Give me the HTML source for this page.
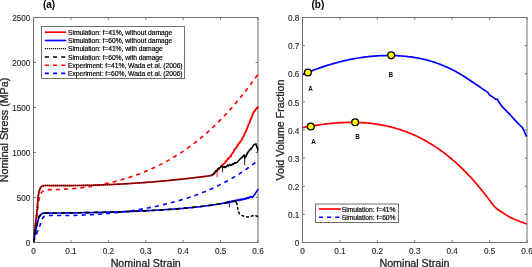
<!DOCTYPE html>
<html><head><meta charset="utf-8"><style>
html,body{margin:0;padding:0;background:#fff;width:532px;height:267px;overflow:hidden}
svg{display:block}
.wrap{will-change:transform;filter:blur(0.25px)}
text{font-family:"Liberation Sans", sans-serif}
</style></head><body><div class="wrap">
<svg width="532" height="267" viewBox="0 0 532 267" font-family='"Liberation Sans", sans-serif'>
<rect width="532" height="267" fill="#fff"/>
<defs>
<clipPath id="cl"><rect x="33.5" y="17.5" width="225.1" height="225.0"/></clipPath>
<clipPath id="cr"><rect x="302.5" y="17.5" width="225.1" height="225.0"/></clipPath>
</defs>
<g stroke="#707070" stroke-width="1" fill="none"><line x1="33.5" y1="242.5" x2="33.5" y2="240.2" /><line x1="33.5" y1="17.5" x2="33.5" y2="19.8" /><line x1="70.92" y1="242.5" x2="70.92" y2="240.2" /><line x1="70.92" y1="17.5" x2="70.92" y2="19.8" /><line x1="108.33" y1="242.5" x2="108.33" y2="240.2" /><line x1="108.33" y1="17.5" x2="108.33" y2="19.8" /><line x1="145.75" y1="242.5" x2="145.75" y2="240.2" /><line x1="145.75" y1="17.5" x2="145.75" y2="19.8" /><line x1="183.17" y1="242.5" x2="183.17" y2="240.2" /><line x1="183.17" y1="17.5" x2="183.17" y2="19.8" /><line x1="220.58" y1="242.5" x2="220.58" y2="240.2" /><line x1="220.58" y1="17.5" x2="220.58" y2="19.8" /><line x1="258.0" y1="242.5" x2="258.0" y2="240.2" /><line x1="258.0" y1="17.5" x2="258.0" y2="19.8" /><line x1="33.5" y1="242.5" x2="35.8" y2="242.5" /><line x1="258.0" y1="242.5" x2="255.7" y2="242.5" /><line x1="33.5" y1="197.5" x2="35.8" y2="197.5" /><line x1="258.0" y1="197.5" x2="255.7" y2="197.5" /><line x1="33.5" y1="152.5" x2="35.8" y2="152.5" /><line x1="258.0" y1="152.5" x2="255.7" y2="152.5" /><line x1="33.5" y1="107.5" x2="35.8" y2="107.5" /><line x1="258.0" y1="107.5" x2="255.7" y2="107.5" /><line x1="33.5" y1="62.5" x2="35.8" y2="62.5" /><line x1="258.0" y1="62.5" x2="255.7" y2="62.5" /><line x1="33.5" y1="17.5" x2="35.8" y2="17.5" /><line x1="258.0" y1="17.5" x2="255.7" y2="17.5" /><rect x="33.5" y="17.5" width="224.5" height="225.0" fill="none"/></g><g font-size="8.2" fill="#262626" stroke="#262626" stroke-width="0.12"><text x="33.5" y="254" text-anchor="middle">0</text><text x="70.92" y="254" text-anchor="middle">0.1</text><text x="108.33" y="254" text-anchor="middle">0.2</text><text x="145.75" y="254" text-anchor="middle">0.3</text><text x="183.17" y="254" text-anchor="middle">0.4</text><text x="220.58" y="254" text-anchor="middle">0.5</text><text x="258.0" y="254" text-anchor="middle">0.6</text><text x="30.4" y="245.80" text-anchor="end">0</text><text x="30.4" y="200.80" text-anchor="end">500</text><text x="30.4" y="155.80" text-anchor="end">1000</text><text x="30.4" y="110.80" text-anchor="end">1500</text><text x="30.4" y="65.80" text-anchor="end">2000</text><text x="30.4" y="20.80" text-anchor="end">2500</text></g>
<g clip-path="url(#cl)">
<path d="M33.50,242.20 C33.83,239.83 34.88,232.70 35.50,228.00 C36.12,223.30 36.75,217.97 37.20,214.00 C37.65,210.03 37.85,206.78 38.20,204.20 C38.55,201.62 38.93,200.00 39.30,198.50 C39.67,197.00 40.02,196.22 40.40,195.20 C40.78,194.18 41.13,193.10 41.60,192.40 C42.07,191.70 42.18,191.46 43.20,191.00 C44.22,190.54 46.62,189.89 47.70,189.67 C48.78,189.44 49.04,189.67 49.70,189.66 C50.37,189.66 51.04,189.66 51.71,189.65 C52.37,189.64 53.04,189.63 53.71,189.62 C54.38,189.61 55.04,189.59 55.71,189.58 C56.38,189.56 57.05,189.54 57.71,189.52 C58.38,189.50 59.05,189.47 59.72,189.45 C60.38,189.42 61.05,189.39 61.72,189.36 C62.39,189.33 63.06,189.30 63.72,189.26 C64.39,189.23 65.06,189.19 65.73,189.15 C66.39,189.11 67.06,189.06 67.73,189.02 C68.40,188.97 69.06,188.92 69.73,188.87 C70.40,188.82 71.07,188.77 71.73,188.71 C72.40,188.66 73.07,188.60 73.74,188.54 C74.40,188.48 75.07,188.42 75.74,188.35 C76.41,188.29 77.08,188.22 77.74,188.15 C78.41,188.08 79.08,188.00 79.75,187.93 C80.41,187.85 81.08,187.77 81.75,187.69 C82.42,187.61 83.08,187.53 83.75,187.44 C84.42,187.36 85.09,187.27 85.75,187.18 C86.42,187.09 87.09,186.99 87.76,186.90 C88.42,186.80 89.09,186.70 89.76,186.60 C90.43,186.50 91.10,186.40 91.76,186.29 C92.43,186.18 93.10,186.07 93.77,185.96 C94.43,185.85 95.10,185.73 95.77,185.62 C96.44,185.50 97.10,185.38 97.77,185.26 C98.44,185.13 99.11,185.01 99.77,184.88 C100.44,184.75 101.11,184.62 101.78,184.49 C102.44,184.35 103.11,184.22 103.78,184.08 C104.45,183.94 105.12,183.80 105.78,183.65 C106.45,183.51 107.12,183.36 107.79,183.21 C108.45,183.06 109.12,182.91 109.79,182.75 C110.46,182.59 111.12,182.44 111.79,182.27 C112.46,182.11 113.13,181.95 113.79,181.78 C114.46,181.61 115.13,181.45 115.80,181.27 C116.46,181.10 117.13,180.92 117.80,180.75 C118.47,180.57 119.14,180.38 119.80,180.20 C120.47,180.02 121.14,179.83 121.81,179.64 C122.47,179.45 123.14,179.25 123.81,179.06 C124.48,178.86 125.14,178.66 125.81,178.45 C126.48,178.25 127.15,178.04 127.81,177.83 C128.48,177.62 129.15,177.41 129.82,177.19 C130.48,176.98 131.15,176.76 131.82,176.53 C132.49,176.31 133.16,176.08 133.82,175.85 C134.49,175.62 135.16,175.38 135.83,175.15 C136.49,174.91 137.16,174.67 137.83,174.42 C138.50,174.18 139.16,173.93 139.83,173.67 C140.50,173.42 141.17,173.16 141.83,172.90 C142.50,172.64 143.17,172.38 143.84,172.11 C144.50,171.84 145.17,171.57 145.84,171.29 C146.51,171.02 147.18,170.74 147.84,170.45 C148.51,170.17 149.18,169.88 149.85,169.59 C150.51,169.29 151.18,169.00 151.85,168.70 C152.52,168.39 153.18,168.09 153.85,167.78 C154.52,167.47 155.19,167.16 155.85,166.84 C156.52,166.52 157.19,166.20 157.86,165.87 C158.52,165.54 159.19,165.21 159.86,164.87 C160.53,164.54 161.20,164.20 161.86,163.85 C162.53,163.51 163.20,163.16 163.87,162.80 C164.53,162.45 165.20,162.09 165.87,161.73 C166.54,161.36 167.20,160.99 167.87,160.62 C168.54,160.25 169.21,159.87 169.87,159.49 C170.54,159.10 171.21,158.71 171.88,158.32 C172.54,157.93 173.21,157.53 173.88,157.13 C174.55,156.72 175.22,156.32 175.88,155.90 C176.55,155.49 177.22,155.07 177.89,154.65 C178.55,154.23 179.22,153.80 179.89,153.36 C180.56,152.93 181.22,152.49 181.89,152.04 C182.56,151.60 183.23,151.15 183.89,150.70 C184.56,150.24 185.23,149.78 185.90,149.31 C186.56,148.85 187.23,148.38 187.90,147.90 C188.57,147.42 189.24,146.94 189.90,146.45 C190.57,145.96 191.24,145.47 191.91,144.97 C192.57,144.47 193.24,143.96 193.91,143.45 C194.58,142.94 195.24,142.42 195.91,141.90 C196.58,141.38 197.25,140.85 197.91,140.31 C198.58,139.78 199.25,139.24 199.92,138.69 C200.58,138.14 201.25,137.59 201.92,137.03 C202.59,136.47 203.26,135.91 203.92,135.34 C204.59,134.77 205.26,134.19 205.93,133.60 C206.59,133.02 207.26,132.43 207.93,131.84 C208.60,131.24 209.26,130.64 209.93,130.03 C210.60,129.42 211.27,128.80 211.93,128.18 C212.60,127.56 213.27,126.93 213.94,126.30 C214.60,125.66 215.27,125.02 215.94,124.38 C216.61,123.73 217.28,123.07 217.94,122.41 C218.61,121.75 219.28,121.08 219.95,120.41 C220.61,119.73 221.28,119.05 221.95,118.37 C222.62,117.68 223.28,116.98 223.95,116.28 C224.62,115.58 225.29,114.87 225.95,114.15 C226.62,113.44 227.29,112.72 227.96,111.99 C228.62,111.26 229.29,110.52 229.96,109.78 C230.63,109.03 231.30,108.28 231.96,107.52 C232.63,106.76 233.30,106.00 233.97,105.23 C234.63,104.45 235.30,103.67 235.97,102.89 C236.64,102.10 237.30,101.30 237.97,100.50 C238.64,99.70 239.31,98.89 239.97,98.07 C240.64,97.25 241.31,96.43 241.98,95.60 C242.64,94.77 243.31,93.93 243.98,93.08 C244.65,92.23 245.32,91.38 245.98,90.51 C246.65,89.65 247.32,88.78 247.99,87.90 C248.65,87.02 249.32,86.14 249.99,85.24 C250.66,84.35 251.32,83.45 251.99,82.54 C252.66,81.63 253.33,80.71 253.99,79.78 C254.66,78.86 255.33,77.92 256.00,76.98 C256.66,76.04 257.67,74.61 258.00,74.13" fill="none" stroke="#ff0000" stroke-width="1.6" stroke-dasharray="4.1 4.1"/>
<path d="M33.50,242.20 C34.00,240.83 35.55,236.45 36.50,234.00 C37.45,231.55 38.53,229.18 39.20,227.50 C39.87,225.82 40.05,225.25 40.50,223.90 C40.95,222.55 41.37,220.57 41.90,219.40 C42.43,218.23 43.02,217.48 43.70,216.90 C44.38,216.32 45.10,216.14 46.00,215.90 C46.90,215.66 48.25,215.52 49.10,215.45 C49.95,215.38 50.44,215.47 51.11,215.47 C51.78,215.48 52.45,215.49 53.12,215.49 C53.79,215.50 54.46,215.50 55.13,215.51 C55.80,215.51 56.47,215.52 57.13,215.52 C57.80,215.52 58.47,215.52 59.14,215.52 C59.81,215.52 60.48,215.52 61.15,215.52 C61.82,215.52 62.49,215.52 63.16,215.51 C63.83,215.51 64.50,215.50 65.17,215.50 C65.84,215.49 66.51,215.48 67.18,215.48 C67.85,215.47 68.52,215.46 69.19,215.45 C69.86,215.44 70.53,215.43 71.20,215.42 C71.86,215.40 72.53,215.39 73.20,215.37 C73.87,215.36 74.54,215.34 75.21,215.33 C75.88,215.31 76.55,215.29 77.22,215.27 C77.89,215.25 78.56,215.23 79.23,215.21 C79.90,215.19 80.57,215.17 81.24,215.14 C81.91,215.12 82.58,215.09 83.25,215.07 C83.92,215.04 84.59,215.01 85.26,214.98 C85.93,214.96 86.59,214.93 87.26,214.89 C87.93,214.86 88.60,214.83 89.27,214.80 C89.94,214.76 90.61,214.73 91.28,214.69 C91.95,214.65 92.62,214.61 93.29,214.57 C93.96,214.54 94.63,214.49 95.30,214.45 C95.97,214.41 96.64,214.37 97.31,214.32 C97.98,214.28 98.65,214.23 99.32,214.18 C99.99,214.14 100.66,214.09 101.33,214.04 C101.99,213.99 102.66,213.93 103.33,213.88 C104.00,213.83 104.67,213.77 105.34,213.72 C106.01,213.66 106.68,213.60 107.35,213.54 C108.02,213.48 108.69,213.42 109.36,213.36 C110.03,213.30 110.70,213.23 111.37,213.17 C112.04,213.10 112.71,213.04 113.38,212.97 C114.05,212.90 114.72,212.83 115.39,212.76 C116.06,212.69 116.72,212.61 117.39,212.54 C118.06,212.46 118.73,212.39 119.40,212.31 C120.07,212.23 120.74,212.15 121.41,212.07 C122.08,211.99 122.75,211.91 123.42,211.82 C124.09,211.74 124.76,211.65 125.43,211.56 C126.10,211.48 126.77,211.39 127.44,211.30 C128.11,211.21 128.78,211.11 129.45,211.02 C130.12,210.92 130.79,210.83 131.45,210.73 C132.12,210.63 132.79,210.53 133.46,210.43 C134.13,210.33 134.80,210.22 135.47,210.12 C136.14,210.01 136.81,209.91 137.48,209.80 C138.15,209.69 138.82,209.58 139.49,209.47 C140.16,209.36 140.83,209.24 141.50,209.12 C142.17,209.01 142.84,208.89 143.51,208.77 C144.18,208.65 144.85,208.53 145.52,208.41 C146.18,208.28 146.85,208.16 147.52,208.03 C148.19,207.90 148.86,207.77 149.53,207.64 C150.20,207.51 150.87,207.38 151.54,207.24 C152.21,207.11 152.88,206.97 153.55,206.83 C154.22,206.69 154.89,206.55 155.56,206.41 C156.23,206.27 156.90,206.12 157.57,205.98 C158.24,205.83 158.91,205.68 159.58,205.53 C160.25,205.38 160.92,205.23 161.58,205.07 C162.25,204.92 162.92,204.76 163.59,204.60 C164.26,204.44 164.93,204.28 165.60,204.12 C166.27,203.95 166.94,203.79 167.61,203.62 C168.28,203.45 168.95,203.28 169.62,203.11 C170.29,202.94 170.96,202.76 171.63,202.59 C172.30,202.41 172.97,202.23 173.64,202.05 C174.31,201.87 174.98,201.69 175.65,201.50 C176.31,201.32 176.98,201.13 177.65,200.94 C178.32,200.75 178.99,200.56 179.66,200.37 C180.33,200.17 181.00,199.97 181.67,199.77 C182.34,199.57 183.01,199.37 183.68,199.17 C184.35,198.96 185.02,198.75 185.69,198.54 C186.36,198.33 187.03,198.12 187.70,197.90 C188.37,197.68 189.04,197.46 189.71,197.24 C190.38,197.02 191.04,196.79 191.71,196.57 C192.38,196.34 193.05,196.11 193.72,195.87 C194.39,195.64 195.06,195.40 195.73,195.16 C196.40,194.91 197.07,194.67 197.74,194.42 C198.41,194.17 199.08,193.92 199.75,193.67 C200.42,193.41 201.09,193.15 201.76,192.89 C202.43,192.63 203.10,192.37 203.77,192.10 C204.44,191.83 205.11,191.55 205.78,191.28 C206.44,191.00 207.11,190.72 207.78,190.44 C208.45,190.15 209.12,189.86 209.79,189.57 C210.46,189.28 211.13,188.98 211.80,188.68 C212.47,188.38 213.14,188.08 213.81,187.77 C214.48,187.46 215.15,187.15 215.82,186.83 C216.49,186.52 217.16,186.20 217.83,185.87 C218.50,185.54 219.17,185.22 219.84,184.88 C220.51,184.55 221.17,184.21 221.84,183.87 C222.51,183.52 223.18,183.18 223.85,182.82 C224.52,182.47 225.19,182.11 225.86,181.75 C226.53,181.39 227.20,181.02 227.87,180.65 C228.54,180.28 229.21,179.91 229.88,179.53 C230.55,179.15 231.22,178.76 231.89,178.37 C232.56,177.98 233.23,177.58 233.90,177.18 C234.57,176.78 235.24,176.38 235.90,175.96 C236.57,175.55 237.24,175.14 237.91,174.71 C238.58,174.29 239.25,173.87 239.92,173.43 C240.59,173.00 241.26,172.56 241.93,172.12 C242.60,171.68 243.27,171.23 243.94,170.78 C244.61,170.32 245.28,169.86 245.95,169.40 C246.62,168.93 247.29,168.46 247.96,167.98 C248.63,167.51 249.30,167.02 249.97,166.53 C250.63,166.05 251.30,165.55 251.97,165.05 C252.64,164.55 253.31,164.04 253.98,163.53 C254.65,163.02 255.32,162.50 255.99,161.98 C256.66,161.45 257.67,160.65 258.00,160.38" fill="none" stroke="#0000ff" stroke-width="1.6" stroke-dasharray="4.1 4.1"/>
<path d="M33.50,242.20 C33.80,239.33 34.70,230.37 35.30,225.00 C35.90,219.63 36.72,213.75 37.10,210.00 C37.48,206.25 37.37,205.07 37.60,202.50 C37.83,199.93 38.22,196.57 38.50,194.60 C38.78,192.63 38.98,191.82 39.30,190.70 C39.62,189.58 39.93,188.63 40.40,187.90 C40.87,187.17 41.43,186.70 42.10,186.30 C42.77,185.90 43.68,185.62 44.40,185.50 C45.12,185.37 45.73,185.51 46.39,185.52 C47.06,185.53 47.72,185.54 48.38,185.55 C49.05,185.56 49.71,185.56 50.38,185.57 C51.04,185.58 51.70,185.58 52.37,185.59 C53.03,185.59 53.69,185.60 54.36,185.60 C55.02,185.61 55.69,185.61 56.35,185.61 C57.01,185.62 57.68,185.62 58.34,185.62 C59.01,185.62 59.67,185.62 60.33,185.62 C61.00,185.62 61.66,185.63 62.32,185.62 C62.99,185.62 63.65,185.62 64.32,185.62 C64.98,185.62 65.64,185.62 66.31,185.61 C66.97,185.61 67.64,185.61 68.30,185.60 C68.96,185.60 69.63,185.59 70.29,185.59 C70.96,185.58 71.62,185.58 72.28,185.57 C72.95,185.57 73.61,185.56 74.27,185.55 C74.94,185.54 75.60,185.53 76.27,185.53 C76.93,185.52 77.59,185.51 78.26,185.50 C78.92,185.49 79.59,185.48 80.25,185.47 C80.91,185.45 81.58,185.44 82.24,185.43 C82.91,185.42 83.57,185.40 84.23,185.39 C84.90,185.38 85.56,185.36 86.22,185.35 C86.89,185.33 87.55,185.32 88.22,185.30 C88.88,185.29 89.54,185.27 90.21,185.25 C90.87,185.24 91.54,185.22 92.20,185.20 C92.86,185.18 93.53,185.16 94.19,185.14 C94.86,185.12 95.52,185.10 96.18,185.08 C96.85,185.06 97.51,185.04 98.17,185.02 C98.84,185.00 99.50,184.97 100.17,184.95 C100.83,184.93 101.49,184.90 102.16,184.88 C102.82,184.86 103.49,184.83 104.15,184.80 C104.81,184.78 105.48,184.75 106.14,184.73 C106.81,184.70 107.47,184.67 108.13,184.65 C108.80,184.62 109.46,184.59 110.12,184.56 C110.79,184.53 111.45,184.50 112.12,184.47 C112.78,184.44 113.44,184.41 114.11,184.38 C114.77,184.35 115.44,184.32 116.10,184.28 C116.76,184.25 117.43,184.22 118.09,184.18 C118.76,184.15 119.42,184.12 120.08,184.08 C120.75,184.05 121.41,184.01 122.07,183.97 C122.74,183.94 123.40,183.90 124.07,183.86 C124.73,183.83 125.39,183.79 126.06,183.75 C126.72,183.71 127.39,183.67 128.05,183.63 C128.71,183.59 129.38,183.55 130.04,183.51 C130.71,183.47 131.37,183.43 132.03,183.39 C132.70,183.35 133.36,183.30 134.02,183.26 C134.69,183.22 135.35,183.17 136.02,183.13 C136.68,183.08 137.34,183.04 138.01,182.99 C138.67,182.95 139.34,182.90 140.00,182.86 C140.66,182.81 141.33,182.76 141.99,182.71 C142.66,182.67 143.32,182.62 143.98,182.57 C144.65,182.52 145.31,182.47 145.97,182.42 C146.64,182.37 147.30,182.32 147.97,182.27 C148.63,182.22 149.29,182.16 149.96,182.11 C150.62,182.06 151.29,182.00 151.95,181.95 C152.61,181.90 153.28,181.84 153.94,181.79 C154.61,181.73 155.27,181.68 155.93,181.62 C156.60,181.56 157.26,181.51 157.92,181.45 C158.59,181.39 159.25,181.34 159.92,181.28 C160.58,181.22 161.24,181.16 161.91,181.10 C162.57,181.04 163.24,180.98 163.90,180.92 C164.56,180.86 165.23,180.80 165.89,180.73 C166.56,180.67 167.22,180.61 167.88,180.55 C168.55,180.48 169.21,180.42 169.88,180.36 C170.54,180.29 171.20,180.23 171.87,180.16 C172.53,180.09 173.19,180.03 173.86,179.96 C174.52,179.89 175.19,179.83 175.85,179.76 C176.51,179.69 177.18,179.62 177.84,179.55 C178.51,179.48 179.17,179.41 179.83,179.34 C180.50,179.27 181.16,179.20 181.82,179.13 C182.49,179.06 183.15,178.99 183.82,178.92 C184.48,178.84 185.14,178.77 185.81,178.70 C186.47,178.62 187.14,178.55 187.80,178.47 C188.46,178.40 189.13,178.32 189.79,178.25 C190.46,178.17 191.12,178.09 191.78,178.02 C192.45,177.94 193.11,177.86 193.77,177.78 C194.44,177.70 195.10,177.62 195.77,177.54 C196.43,177.46 197.09,177.38 197.76,177.30 C198.42,177.22 199.09,177.14 199.75,177.06 C200.41,176.98 201.08,176.89 201.74,176.81 C202.41,176.73 203.07,176.64 203.73,176.56 C204.40,176.48 205.06,176.39 205.72,176.31 C206.39,176.22 207.05,176.13 207.72,176.05 C208.38,175.96 209.04,175.87 209.71,175.78 C210.37,175.70 211.37,175.56 211.70,175.52" fill="none" stroke="#ff0000" stroke-width="1.65"/>
<path d="M211.70,175.52 L212.40,174.55 L213.10,174.21 L213.80,173.34 L214.50,172.91 L215.20,172.30 L215.90,171.04 L216.60,170.34 L217.30,170.61 L218.00,169.34 L218.60,168.67 L219.20,168.87 L219.80,167.65 L220.40,167.41 L221.00,166.37 L221.60,165.97 L222.20,164.85 L222.80,164.80 L223.40,164.47 L224.00,163.51 L224.60,163.17 L225.17,162.44 L225.73,161.12 L226.30,161.23 L226.87,160.40 L227.43,159.43 L228.00,158.48 L228.52,158.75 L229.03,157.67 L229.55,157.29 L230.07,156.82 L230.58,155.99 L231.10,155.56 L231.59,154.26 L232.07,153.97 L232.56,152.85 L233.04,152.66 L233.53,151.87 L234.01,150.29 L234.50,149.60 L234.96,149.00 L235.41,149.14 L235.87,147.87 L236.33,147.40 L236.79,146.35 L237.24,145.89 L237.70,145.07 L238.35,144.09 L239.00,143.39 L239.52,142.65 L240.04,142.26 L240.56,141.28 L241.08,140.81 L241.60,139.99 L242.03,139.37 L242.45,138.24 L242.88,136.90 L243.30,136.90 L243.66,136.26 L244.03,135.45 L244.39,134.33 L244.75,133.74 L245.11,132.43 L245.47,132.36 L245.84,131.33 L246.20,130.26 L246.53,129.22 L246.86,129.29 L247.19,128.64 L247.52,126.85 L247.85,126.83 L248.18,125.60 L248.51,124.52 L248.84,123.87 L249.17,123.60 L249.50,122.91 L249.80,121.23 L250.10,121.09 L250.40,119.69 L250.70,119.66 L251.00,118.46 L251.30,118.30 L251.60,117.64 L251.90,116.35 L252.20,116.12 L252.50,114.59 L252.92,113.62 L253.33,113.48 L253.75,112.13 L254.17,111.60 L254.58,111.12 L255.00,110.62 L255.58,109.46 L256.17,108.66 L256.75,108.90 L257.33,107.63 L257.92,107.67 L258.50,106.50" fill="none" stroke="#ff0000" stroke-width="1.8" stroke-linejoin="round"/>
<line x1="217.1" y1="170.3" x2="217.1" y2="177.0" stroke="#ff0000" stroke-width="0.9"/>
<line x1="231.6" y1="154.6" x2="231.0" y2="157.5" stroke="#ff0000" stroke-width="0.9"/>
<line x1="238.6" y1="143.8" x2="238.0" y2="146.5" stroke="#ff0000" stroke-width="0.9"/>
<path d="M33.50,242.20 C33.92,240.00 35.43,231.75 36.00,229.00 C36.57,226.25 36.60,227.00 36.90,225.70 C37.20,224.40 37.42,222.70 37.80,221.20 C38.18,219.70 38.67,217.85 39.20,216.70 C39.73,215.55 40.28,214.89 41.00,214.30 C41.72,213.71 42.75,213.36 43.50,213.17 C44.25,212.98 44.83,213.16 45.50,213.16 C46.16,213.15 46.83,213.14 47.49,213.14 C48.16,213.13 48.82,213.12 49.49,213.12 C50.15,213.11 50.82,213.11 51.48,213.10 C52.15,213.09 52.81,213.09 53.48,213.08 C54.14,213.07 54.81,213.07 55.47,213.06 C56.14,213.05 56.80,213.05 57.47,213.04 C58.13,213.03 58.80,213.02 59.46,213.02 C60.13,213.01 60.79,213.00 61.46,212.99 C62.12,212.99 62.79,212.98 63.45,212.97 C64.12,212.96 64.78,212.96 65.45,212.95 C66.11,212.94 66.78,212.93 67.44,212.92 C68.11,212.91 68.77,212.91 69.44,212.90 C70.10,212.89 70.77,212.88 71.43,212.87 C72.10,212.86 72.76,212.85 73.43,212.84 C74.09,212.83 74.76,212.82 75.42,212.81 C76.09,212.80 76.75,212.79 77.42,212.78 C78.08,212.77 78.75,212.76 79.41,212.75 C80.08,212.74 80.74,212.73 81.41,212.72 C82.07,212.71 82.74,212.70 83.40,212.69 C84.07,212.68 84.73,212.67 85.40,212.65 C86.06,212.64 86.73,212.63 87.39,212.62 C88.06,212.61 88.72,212.59 89.39,212.58 C90.05,212.57 90.72,212.56 91.38,212.54 C92.05,212.53 92.71,212.52 93.38,212.50 C94.04,212.49 94.71,212.47 95.38,212.46 C96.04,212.45 96.71,212.43 97.37,212.42 C98.04,212.40 98.70,212.39 99.37,212.37 C100.03,212.36 100.70,212.34 101.36,212.33 C102.03,212.31 102.69,212.29 103.36,212.28 C104.02,212.26 104.69,212.24 105.35,212.23 C106.02,212.21 106.68,212.19 107.35,212.18 C108.01,212.16 108.68,212.14 109.34,212.12 C110.01,212.10 110.67,212.09 111.34,212.07 C112.00,212.05 112.67,212.03 113.33,212.01 C114.00,211.99 114.66,211.97 115.33,211.95 C115.99,211.93 116.66,211.91 117.32,211.89 C117.99,211.87 118.65,211.85 119.32,211.82 C119.98,211.80 120.65,211.78 121.31,211.76 C121.98,211.74 122.64,211.71 123.31,211.69 C123.97,211.67 124.64,211.64 125.30,211.62 C125.97,211.60 126.63,211.57 127.30,211.55 C127.96,211.52 128.63,211.50 129.29,211.47 C129.96,211.45 130.62,211.42 131.29,211.40 C131.95,211.37 132.62,211.34 133.28,211.32 C133.95,211.29 134.61,211.26 135.28,211.23 C135.94,211.21 136.61,211.18 137.27,211.15 C137.94,211.12 138.60,211.09 139.27,211.06 C139.93,211.03 140.60,211.00 141.26,210.97 C141.93,210.94 142.59,210.91 143.26,210.88 C143.92,210.85 144.59,210.82 145.25,210.79 C145.92,210.75 146.58,210.72 147.25,210.69 C147.92,210.65 148.58,210.62 149.25,210.59 C149.91,210.55 150.58,210.52 151.24,210.48 C151.91,210.45 152.57,210.41 153.24,210.38 C153.90,210.34 154.57,210.30 155.23,210.27 C155.90,210.23 156.56,210.19 157.23,210.15 C157.89,210.12 158.56,210.08 159.22,210.04 C159.89,210.00 160.55,209.96 161.22,209.92 C161.88,209.88 162.55,209.84 163.21,209.80 C163.88,209.76 164.54,209.71 165.21,209.67 C165.87,209.63 166.54,209.59 167.20,209.54 C167.87,209.50 168.53,209.45 169.20,209.41 C169.86,209.36 170.53,209.32 171.19,209.27 C171.86,209.22 172.52,209.18 173.19,209.13 C173.85,209.08 174.52,209.03 175.18,208.98 C175.85,208.93 176.51,208.88 177.18,208.83 C177.84,208.78 178.51,208.72 179.17,208.67 C179.84,208.62 180.50,208.56 181.17,208.51 C181.83,208.45 182.50,208.39 183.16,208.34 C183.83,208.28 184.49,208.22 185.16,208.16 C185.82,208.10 186.49,208.04 187.15,207.98 C187.82,207.92 188.48,207.85 189.15,207.79 C189.81,207.73 190.48,207.66 191.14,207.59 C191.81,207.53 192.47,207.46 193.14,207.39 C193.80,207.32 194.47,207.25 195.13,207.18 C195.80,207.11 196.46,207.03 197.13,206.96 C197.79,206.89 198.46,206.81 199.12,206.73 C199.79,206.66 200.46,206.58 201.12,206.50 C201.79,206.42 202.45,206.34 203.12,206.25 C203.78,206.17 204.45,206.09 205.11,206.00 C205.78,205.92 206.44,205.83 207.11,205.74 C207.77,205.65 208.44,205.56 209.10,205.47 C209.77,205.38 210.43,205.28 211.10,205.19 C211.76,205.09 212.43,205.00 213.09,204.90 C213.76,204.80 214.42,204.70 215.09,204.60 C215.75,204.49 216.42,204.39 217.08,204.28 C217.75,204.18 218.41,204.07 219.08,203.96 C219.74,203.85 220.41,203.74 221.07,203.63 C221.74,203.52 222.40,203.40 223.07,203.28 C223.73,203.17 224.40,203.05 225.06,202.93 C225.73,202.81 226.39,202.69 227.06,202.56 C227.72,202.44 228.39,202.31 229.05,202.18 C229.72,202.05 230.38,201.92 231.05,201.79 C231.71,201.66 232.38,201.52 233.04,201.38 C233.71,201.25 234.37,201.11 235.04,200.97 C235.70,200.82 236.37,200.68 237.03,200.54 C237.70,200.39 238.36,200.24 239.03,200.09 C239.69,199.94 240.36,199.79 241.02,199.63 C241.69,199.48 242.35,199.32 243.02,199.16 C243.68,199.00 244.35,198.84 245.01,198.68 C245.68,198.51 246.34,198.34 247.01,198.17 C247.67,198.01 248.34,197.83 249.00,197.66 C249.67,197.49 250.42,197.19 251.00,197.13 C251.58,197.07 251.83,197.84 252.50,197.30 C253.17,196.76 254.00,195.32 255.00,193.90 C256.00,192.48 257.92,189.65 258.50,188.80" fill="none" stroke="#0000ff" stroke-width="1.65"/>
<path d="M225.06,202.93 L226.06,202.57 L227.06,202.21 L228.06,202.52 L229.05,201.75 L230.05,202.02 L231.05,201.65 L232.05,201.14 L233.04,201.39 L234.04,200.71 L235.04,200.90 L236.04,200.32 L237.03,200.13 L238.03,200.24 L239.03,200.42 L240.03,199.49 L241.02,199.36 L242.02,199.52 L243.02,199.61 L244.02,199.00 L245.01,198.57 L246.01,198.90 L247.01,197.72 L248.01,198.28 L249.00,197.45 L250.00,197.04 L251.00,196.75 L252.50,197.30" fill="none" stroke="#0000ff" stroke-width="1.75" stroke-linejoin="round"/>
<line x1="229.4" y1="200.5" x2="229.4" y2="207.4" stroke="#0000ff" stroke-width="0.9"/>
<path d="M33.50,242.20 C33.80,239.33 34.70,230.37 35.30,225.00 C35.90,219.63 36.72,213.75 37.10,210.00 C37.48,206.25 37.37,205.07 37.60,202.50 C37.83,199.93 38.22,196.57 38.50,194.60 C38.78,192.63 38.98,191.82 39.30,190.70 C39.62,189.58 39.93,188.63 40.40,187.90 C40.87,187.17 41.43,186.70 42.10,186.30 C42.77,185.90 43.68,185.62 44.40,185.50 C45.12,185.37 45.73,185.51 46.39,185.52 C47.06,185.53 47.72,185.54 48.38,185.55 C49.05,185.56 49.71,185.56 50.38,185.57 C51.04,185.58 51.70,185.58 52.37,185.59 C53.03,185.59 53.69,185.60 54.36,185.60 C55.02,185.61 55.69,185.61 56.35,185.61 C57.01,185.62 57.68,185.62 58.34,185.62 C59.01,185.62 59.67,185.62 60.33,185.62 C61.00,185.62 61.66,185.63 62.32,185.62 C62.99,185.62 63.65,185.62 64.32,185.62 C64.98,185.62 65.64,185.62 66.31,185.61 C66.97,185.61 67.64,185.61 68.30,185.60 C68.96,185.60 69.63,185.59 70.29,185.59 C70.96,185.58 71.62,185.58 72.28,185.57 C72.95,185.57 73.61,185.56 74.27,185.55 C74.94,185.54 75.60,185.53 76.27,185.53 C76.93,185.52 77.59,185.51 78.26,185.50 C78.92,185.49 79.59,185.48 80.25,185.47 C80.91,185.45 81.58,185.44 82.24,185.43 C82.91,185.42 83.57,185.40 84.23,185.39 C84.90,185.38 85.56,185.36 86.22,185.35 C86.89,185.33 87.55,185.32 88.22,185.30 C88.88,185.29 89.54,185.27 90.21,185.25 C90.87,185.24 91.54,185.22 92.20,185.20 C92.86,185.18 93.53,185.16 94.19,185.14 C94.86,185.12 95.52,185.10 96.18,185.08 C96.85,185.06 97.51,185.04 98.17,185.02 C98.84,185.00 99.50,184.97 100.17,184.95 C100.83,184.93 101.49,184.90 102.16,184.88 C102.82,184.86 103.49,184.83 104.15,184.80 C104.81,184.78 105.48,184.75 106.14,184.73 C106.81,184.70 107.47,184.67 108.13,184.65 C108.80,184.62 109.46,184.59 110.12,184.56 C110.79,184.53 111.45,184.50 112.12,184.47 C112.78,184.44 113.44,184.41 114.11,184.38 C114.77,184.35 115.44,184.32 116.10,184.28 C116.76,184.25 117.43,184.22 118.09,184.18 C118.76,184.15 119.42,184.12 120.08,184.08 C120.75,184.05 121.41,184.01 122.07,183.97 C122.74,183.94 123.40,183.90 124.07,183.86 C124.73,183.83 125.39,183.79 126.06,183.75 C126.72,183.71 127.39,183.67 128.05,183.63 C128.71,183.59 129.38,183.55 130.04,183.51 C130.71,183.47 131.37,183.43 132.03,183.39 C132.70,183.35 133.36,183.30 134.02,183.26 C134.69,183.22 135.35,183.17 136.02,183.13 C136.68,183.08 137.34,183.04 138.01,182.99 C138.67,182.95 139.34,182.90 140.00,182.86 C140.66,182.81 141.33,182.76 141.99,182.71 C142.66,182.67 143.32,182.62 143.98,182.57 C144.65,182.52 145.31,182.47 145.97,182.42 C146.64,182.37 147.30,182.32 147.97,182.27 C148.63,182.22 149.29,182.16 149.96,182.11 C150.62,182.06 151.29,182.00 151.95,181.95 C152.61,181.90 153.28,181.84 153.94,181.79 C154.61,181.73 155.27,181.68 155.93,181.62 C156.60,181.56 157.26,181.51 157.92,181.45 C158.59,181.39 159.25,181.34 159.92,181.28 C160.58,181.22 161.24,181.16 161.91,181.10 C162.57,181.04 163.24,180.98 163.90,180.92 C164.56,180.86 165.23,180.80 165.89,180.73 C166.56,180.67 167.22,180.61 167.88,180.55 C168.55,180.48 169.21,180.42 169.88,180.36 C170.54,180.29 171.20,180.23 171.87,180.16 C172.53,180.09 173.19,180.03 173.86,179.96 C174.52,179.89 175.19,179.83 175.85,179.76 C176.51,179.69 177.18,179.62 177.84,179.55 C178.51,179.48 179.17,179.41 179.83,179.34 C180.50,179.27 181.16,179.20 181.82,179.13 C182.49,179.06 183.15,178.99 183.82,178.92 C184.48,178.84 185.14,178.77 185.81,178.70 C186.47,178.62 187.14,178.55 187.80,178.47 C188.46,178.40 189.13,178.32 189.79,178.25 C190.46,178.17 191.12,178.09 191.78,178.02 C192.45,177.94 193.11,177.86 193.77,177.78 C194.44,177.70 195.10,177.62 195.77,177.54 C196.43,177.46 197.09,177.38 197.76,177.30 C198.42,177.22 199.09,177.14 199.75,177.06 C200.41,176.98 201.08,176.89 201.74,176.81 C202.41,176.73 203.07,176.64 203.73,176.56 C204.40,176.48 205.06,176.39 205.72,176.31 C206.39,176.22 207.05,176.13 207.72,176.05 C208.38,175.96 209.04,175.87 209.71,175.78 C210.37,175.70 211.37,175.56 211.70,175.52" fill="none" stroke="#000" stroke-width="1.5" stroke-dasharray="1 1"/>
<path d="M211.70,175.30 L212.26,174.93 L212.82,174.56 L213.38,174.09 L213.94,173.76 L214.50,172.94 L215.00,172.68 L215.50,170.91 L216.00,171.01 L216.50,171.16 L217.00,170.24 L217.50,170.08 L218.00,168.46 L218.62,168.51 L219.25,167.75 L219.88,167.71 L220.50,167.30 L221.20,166.12 L221.90,166.00 L222.60,166.69 L223.20,167.18 L223.87,167.21 L224.53,166.59 L225.20,167.72 L225.86,166.43 L226.52,166.74 L227.18,165.70 L227.84,165.16 L228.50,166.02 L229.28,164.83 L230.06,164.58 L230.84,165.40 L231.62,164.98 L232.40,163.91 L233.05,164.53 L233.70,163.62 L234.35,163.50 L235.00,162.52 L235.65,163.23 L236.30,162.57 L236.98,162.53 L237.65,162.00 L238.32,160.74 L239.00,160.41 L239.63,159.53 L240.27,158.90 L240.90,158.19 L241.40,157.90 L241.90,157.69 L242.40,156.23 L242.90,156.55 L243.55,155.52 L244.20,154.93 L244.32,156.35 L244.45,156.57 L244.57,157.04 L244.70,157.97 L245.00,157.59 L245.30,155.98 L246.20,156.37 L246.52,154.38 L246.85,154.75 L247.18,154.23 L247.50,152.43 L247.90,152.85 L248.30,151.61 L248.83,151.36 L249.35,150.01 L249.88,149.52 L250.40,149.15 L250.84,149.60 L251.28,147.90 L251.72,148.04 L252.16,147.64 L252.60,147.02 L253.18,145.56 L253.75,144.95 L254.32,144.56 L254.90,144.29 L256.00,143.85 L256.27,145.45 L256.55,146.22 L256.83,147.00 L257.10,146.55 L257.45,148.52 L257.80,148.03 L258.15,149.08 L258.50,150.00" fill="none" stroke="#000" stroke-width="1.5" stroke-linejoin="round"/>
<line x1="222.6" y1="166.5" x2="222.6" y2="172.2" stroke="#000" stroke-width="0.9"/>
<line x1="244.7" y1="157.5" x2="244.7" y2="165.0" stroke="#000" stroke-width="0.9"/>
<line x1="257.7" y1="148.5" x2="257.7" y2="152.2" stroke="#000" stroke-width="0.9"/>
<path d="M33.50,242.20 L36.00,229.00 L36.90,225.70 L37.80,221.20 L39.20,216.70 L41.00,214.30 L43.50,213.17 L45.50,213.16 L47.49,213.14 L49.49,213.12 L51.48,213.10 L53.48,213.08 L55.47,213.06 L57.47,213.04 L59.46,213.02 L61.46,212.99 L63.45,212.97 L65.45,212.95 L67.44,212.92 L69.44,212.90 L71.43,212.87 L73.43,212.84 L75.42,212.81 L77.42,212.78 L79.41,212.75 L81.41,212.72 L83.40,212.69 L85.40,212.65 L87.39,212.62 L89.39,212.58 L91.38,212.54 L93.38,212.50 L95.38,212.46 L97.37,212.42 L99.37,212.37 L101.36,212.33 L103.36,212.28 L105.35,212.23 L107.35,212.18 L109.34,212.12 L111.34,212.07 L113.33,212.01 L115.33,211.95 L117.32,211.89 L119.32,211.82 L121.31,211.76 L123.31,211.69 L125.30,211.62 L127.30,211.55 L129.29,211.47 L131.29,211.40 L133.28,211.32 L135.28,211.23 L137.27,211.15 L139.27,211.06 L141.26,210.97 L143.26,210.88 L145.25,210.79 L147.25,210.69 L149.25,210.59 L151.24,210.48 L153.24,210.38 L155.23,210.27 L157.23,210.15 L159.22,210.04 L161.22,209.92 L163.21,209.80 L165.21,209.67 L167.20,209.54 L169.20,209.41 L171.19,209.27 L173.19,209.13 L175.18,208.98 L177.18,208.83 L179.17,208.67 L181.17,208.51 L183.16,208.34 L185.16,208.16 L187.15,207.98 L189.15,207.79 L191.14,207.59 L193.14,207.39 L195.13,207.18 L197.13,206.96 L199.12,206.73 L201.12,206.50 L203.12,206.25 L205.11,206.00 L207.11,205.74 L209.10,205.47 L211.10,205.19 L213.09,204.90 L215.09,204.60 L217.08,204.28 L219.08,203.96 L221.07,203.63 L223.07,203.28 L225.06,202.93 L227.06,202.56 L229.05,202.18 L231.05,201.79 L233.04,201.38 L235.04,200.97 L236.00,202.80" fill="none" stroke="#000" stroke-width="1.7" stroke-dasharray="4.3 3.9"/>
<path d="M236.00,202.80 C236.12,202.83 236.45,202.30 236.70,203.00 C236.95,203.70 237.25,205.70 237.50,207.00 C237.75,208.30 237.83,209.65 238.20,210.80 C238.57,211.95 238.95,213.08 239.70,213.90 C240.45,214.72 241.57,215.23 242.70,215.70 C243.83,216.17 245.37,216.50 246.50,216.70 C247.63,216.90 248.50,217.05 249.50,216.90 C250.50,216.75 251.50,215.98 252.50,215.80 C253.50,215.62 254.50,215.67 255.50,215.80 C256.50,215.93 258.00,216.47 258.50,216.60" fill="none" stroke="#000" stroke-width="1.5" stroke-dasharray="3 1.8"/>
</g>
<rect x="41.5" y="26.5" width="143.0" height="52.0" fill="#fff" stroke="#707070" stroke-width="1"/>
<line x1="44.8" y1="32.2" x2="66.2" y2="32.2" stroke="#ff0000" stroke-width="1.7"/>
<text x="68.0" y="34.900000000000006" font-size="6.75" fill="#000" stroke="#000" stroke-width="0.18" textLength="104.2" lengthAdjust="spacing">Simulation: f=41%, without damage</text>
<line x1="44.8" y1="40.5" x2="66.2" y2="40.5" stroke="#0000ff" stroke-width="1.7"/>
<text x="68.0" y="43.2" font-size="6.75" fill="#000" stroke="#000" stroke-width="0.18" textLength="104.2" lengthAdjust="spacing">Simulation: f=60%, without damage</text>
<line x1="44.8" y1="48.7" x2="66.2" y2="48.7" stroke="#000" stroke-width="1.3" stroke-dasharray="1.1 0.9"/>
<text x="68.0" y="51.400000000000006" font-size="6.75" fill="#000" stroke="#000" stroke-width="0.18" textLength="94.8" lengthAdjust="spacing">Simulation: f=41%, with damage</text>
<line x1="44.8" y1="57.0" x2="66.2" y2="57.0" stroke="#000" stroke-width="1.6" stroke-dasharray="4.1 4.1"/>
<text x="68.0" y="59.7" font-size="6.75" fill="#000" stroke="#000" stroke-width="0.18" textLength="94.8" lengthAdjust="spacing">Simulation: f=60%, with damage</text>
<line x1="44.8" y1="65.2" x2="66.2" y2="65.2" stroke="#ff0000" stroke-width="1.6" stroke-dasharray="4.1 4.1"/>
<text x="68.0" y="67.9" font-size="6.75" fill="#000" stroke="#000" stroke-width="0.18" textLength="114.6" lengthAdjust="spacing">Experiment: f=41%, Wada et al. (2006)</text>
<line x1="44.8" y1="73.4" x2="66.2" y2="73.4" stroke="#0000ff" stroke-width="1.6" stroke-dasharray="4.1 4.1"/>
<text x="68.0" y="76.10000000000001" font-size="6.75" fill="#000" stroke="#000" stroke-width="0.18" textLength="114.6" lengthAdjust="spacing">Experiment: f=60%, Wada et al. (2006)</text>
<g stroke="#707070" stroke-width="1" fill="none"><line x1="302.5" y1="242.5" x2="302.5" y2="240.2" /><line x1="302.5" y1="17.5" x2="302.5" y2="19.8" /><line x1="339.92" y1="242.5" x2="339.92" y2="240.2" /><line x1="339.92" y1="17.5" x2="339.92" y2="19.8" /><line x1="377.33" y1="242.5" x2="377.33" y2="240.2" /><line x1="377.33" y1="17.5" x2="377.33" y2="19.8" /><line x1="414.75" y1="242.5" x2="414.75" y2="240.2" /><line x1="414.75" y1="17.5" x2="414.75" y2="19.8" /><line x1="452.17" y1="242.5" x2="452.17" y2="240.2" /><line x1="452.17" y1="17.5" x2="452.17" y2="19.8" /><line x1="489.58" y1="242.5" x2="489.58" y2="240.2" /><line x1="489.58" y1="17.5" x2="489.58" y2="19.8" /><line x1="527.0" y1="242.5" x2="527.0" y2="240.2" /><line x1="527.0" y1="17.5" x2="527.0" y2="19.8" /><line x1="302.5" y1="242.5" x2="304.8" y2="242.5" /><line x1="527.0" y1="242.5" x2="524.7" y2="242.5" /><line x1="302.5" y1="214.38" x2="304.8" y2="214.38" /><line x1="527.0" y1="214.38" x2="524.7" y2="214.38" /><line x1="302.5" y1="186.25" x2="304.8" y2="186.25" /><line x1="527.0" y1="186.25" x2="524.7" y2="186.25" /><line x1="302.5" y1="158.12" x2="304.8" y2="158.12" /><line x1="527.0" y1="158.12" x2="524.7" y2="158.12" /><line x1="302.5" y1="130.0" x2="304.8" y2="130.0" /><line x1="527.0" y1="130.0" x2="524.7" y2="130.0" /><line x1="302.5" y1="101.88" x2="304.8" y2="101.88" /><line x1="527.0" y1="101.88" x2="524.7" y2="101.88" /><line x1="302.5" y1="73.75" x2="304.8" y2="73.75" /><line x1="527.0" y1="73.75" x2="524.7" y2="73.75" /><line x1="302.5" y1="45.62" x2="304.8" y2="45.62" /><line x1="527.0" y1="45.62" x2="524.7" y2="45.62" /><line x1="302.5" y1="17.5" x2="304.8" y2="17.5" /><line x1="527.0" y1="17.5" x2="524.7" y2="17.5" /><rect x="302.5" y="17.5" width="224.5" height="225.0" fill="none"/></g><g font-size="8.2" fill="#262626" stroke="#262626" stroke-width="0.12"><text x="302.5" y="254" text-anchor="middle">0</text><text x="339.92" y="254" text-anchor="middle">0.1</text><text x="377.33" y="254" text-anchor="middle">0.2</text><text x="414.75" y="254" text-anchor="middle">0.3</text><text x="452.17" y="254" text-anchor="middle">0.4</text><text x="489.58" y="254" text-anchor="middle">0.5</text><text x="527.0" y="254" text-anchor="middle">0.6</text><text x="299.4" y="246.20" text-anchor="end">0</text><text x="299.4" y="218.08" text-anchor="end">0.1</text><text x="299.4" y="189.95" text-anchor="end">0.2</text><text x="299.4" y="161.82" text-anchor="end">0.3</text><text x="299.4" y="133.70" text-anchor="end">0.4</text><text x="299.4" y="105.58" text-anchor="end">0.5</text><text x="299.4" y="77.45" text-anchor="end">0.6</text><text x="299.4" y="49.32" text-anchor="end">0.7</text><text x="299.4" y="21.20" text-anchor="end">0.8</text></g>
<g clip-path="url(#cr)">
<path d="M302.40,74.60 L303.90,73.97 L305.41,73.34 L306.91,72.72 L308.42,72.12 L309.92,71.52 L311.43,70.94 L312.93,70.36 L314.44,69.80 L315.94,69.24 L317.45,68.69 L318.95,68.16 L320.46,67.63 L321.96,67.12 L323.47,66.62 L324.97,66.12 L326.48,65.64 L327.98,65.17 L329.49,64.71 L330.99,64.25 L332.50,63.81 L334.00,63.38 L335.51,62.96 L337.01,62.56 L338.52,62.16 L340.02,61.77 L341.53,61.40 L343.03,61.03 L344.54,60.68 L346.04,60.34 L347.55,60.01 L349.05,59.69 L350.56,59.38 L352.06,59.08 L353.57,58.80 L355.07,58.53 L356.58,58.26 L358.08,58.01 L359.59,57.77 L361.09,57.55 L362.60,57.33 L364.10,57.13 L365.60,56.93 L367.11,56.75 L368.61,56.58 L370.12,56.43 L371.62,56.28 L373.13,56.15 L374.63,56.03 L376.14,55.92 L377.64,55.83 L379.15,55.74 L380.65,55.67 L382.16,55.61 L383.66,55.57 L385.17,55.53 L386.67,55.51 L388.18,55.50 L389.68,55.51 L391.19,55.52 L392.69,55.55 L394.20,55.59 L395.70,55.65 L397.21,55.71 L398.71,55.79 L400.22,55.89 L401.72,55.99 L403.23,56.11 L404.73,56.25 L406.24,56.40 L407.74,56.56 L409.25,56.74 L410.75,56.93 L412.26,57.14 L413.76,57.37 L415.27,57.61 L416.77,57.87 L418.28,58.14 L419.78,58.44 L421.29,58.75 L422.79,59.08 L424.30,59.43 L425.80,59.79 L427.30,60.18 L428.81,60.59 L430.31,61.01 L431.82,61.46 L433.32,61.93 L434.83,62.42 L436.33,62.93 L437.84,63.46 L439.34,64.01 L440.85,64.59 L442.35,65.18 L443.86,65.81 L445.36,66.45 L446.87,67.12 L448.37,67.81 L449.88,68.52 L451.38,69.26 L452.89,70.02 L454.39,70.81 L455.90,71.62 L457.40,72.46 L458.91,73.32 L460.41,74.21 L461.92,75.12 L463.42,76.05 L464.93,76.99 L466.43,77.96 L467.94,78.94 L469.44,79.93 L470.95,80.93 L472.45,81.94 L473.96,82.96 L475.46,83.98 L476.97,85.01 L478.47,86.03 L479.98,87.06 L481.48,88.08 L482.99,89.09 L484.49,90.10 L486.00,91.10 L487.50,92.09 L488.60,93.60 L489.60,95.00 L493.00,97.20 L495.80,99.40 L497.30,99.00 L499.20,102.60 L502.00,106.40 L504.50,109.00 L507.00,111.60 L509.70,114.20 L512.40,117.40 L515.00,120.20 L517.60,122.90 L520.20,125.50 L522.50,127.70 L524.00,131.00 L525.40,134.00 L526.70,136.70" fill="none" stroke="#0000ff" stroke-width="1.7" stroke-linejoin="round"/>
<path d="M302.40,127.72 L303.90,127.43 L305.41,127.15 L306.91,126.87 L308.42,126.60 L309.92,126.33 L311.43,126.08 L312.93,125.83 L314.44,125.58 L315.94,125.34 L317.45,125.12 L318.95,124.89 L320.46,124.68 L321.96,124.48 L323.47,124.28 L324.97,124.09 L326.48,123.91 L327.98,123.74 L329.49,123.58 L330.99,123.42 L332.50,123.28 L334.00,123.15 L335.50,123.02 L337.01,122.91 L338.51,122.81 L340.02,122.71 L341.52,122.63 L343.03,122.56 L344.53,122.50 L346.04,122.45 L347.54,122.41 L349.05,122.38 L350.55,122.37 L352.06,122.36 L353.56,122.37 L355.07,122.39 L356.57,122.43 L358.08,122.47 L359.58,122.53 L361.09,122.60 L362.59,122.69 L364.10,122.79 L365.60,122.90 L367.10,123.02 L368.61,123.16 L370.11,123.32 L371.62,123.49 L373.12,123.67 L374.63,123.87 L376.13,124.08 L377.64,124.31 L379.14,124.55 L380.65,124.81 L382.15,125.08 L383.66,125.37 L385.16,125.68 L386.67,126.00 L388.17,126.34 L389.68,126.70 L391.18,127.07 L392.69,127.46 L394.19,127.87 L395.70,128.29 L397.20,128.74 L398.70,129.20 L400.21,129.68 L401.71,130.18 L403.22,130.69 L404.72,131.23 L406.23,131.79 L407.73,132.37 L409.24,132.96 L410.74,133.58 L412.25,134.22 L413.75,134.87 L415.26,135.55 L416.76,136.25 L418.27,136.97 L419.77,137.72 L421.28,138.48 L422.78,139.27 L424.29,140.08 L425.79,140.91 L427.30,141.77 L428.80,142.65 L430.30,143.55 L431.81,144.47 L433.31,145.42 L434.82,146.40 L436.32,147.39 L437.83,148.42 L439.33,149.46 L440.84,150.54 L442.34,151.63 L443.85,152.76 L445.35,153.91 L446.86,155.08 L448.36,156.28 L449.87,157.51 L451.37,158.76 L452.88,160.05 L454.38,161.36 L455.89,162.69 L457.39,164.06 L458.90,165.45 L460.40,166.87 L461.90,168.32 L463.41,169.80 L464.91,171.30 L466.42,172.84 L467.92,174.40 L469.43,176.00 L470.93,177.62 L472.44,179.28 L473.94,180.96 L475.45,182.68 L476.95,184.43 L478.46,186.21 L479.96,188.02 L481.47,189.86 L482.97,191.73 L484.48,193.64 L485.98,195.58 L487.49,197.55 L488.99,199.55 L490.50,201.59 L492.00,203.66 L493.20,205.00 L494.30,206.40 L495.60,207.70 L497.20,209.00 L499.70,210.80 L502.00,212.30 L504.20,213.60 L507.50,215.70 L511.30,217.90 L515.00,219.50 L520.00,221.50 L526.70,224.00" fill="none" stroke="#ff0000" stroke-width="1.7" stroke-linejoin="round"/>
<circle cx="307.85" cy="72.5" r="3.4" fill="#ffff00" stroke="#000" stroke-width="1.3"/>
<circle cx="391.2" cy="55.35" r="3.4" fill="#ffff00" stroke="#000" stroke-width="1.3"/>
<circle cx="310.8" cy="126.5" r="3.4" fill="#ffff00" stroke="#000" stroke-width="1.3"/>
<circle cx="355.1" cy="122.3" r="3.4" fill="#ffff00" stroke="#000" stroke-width="1.3"/>
<text x="310.5" y="90.8" text-anchor="middle" font-weight="bold" font-size="6.3" fill="#000">A</text>
<text x="390.8" y="76.7" text-anchor="middle" font-weight="bold" font-size="6.3" fill="#000">B</text>
<text x="313.6" y="144.4" text-anchor="middle" font-weight="bold" font-size="6.3" fill="#000">A</text>
<text x="357.5" y="138.5" text-anchor="middle" font-weight="bold" font-size="6.3" fill="#000">B</text>
</g>
<rect x="315.5" y="204.0" width="83.0" height="18.5" fill="#fff" stroke="#707070" stroke-width="1"/>
<line x1="318.9" y1="209.0" x2="340.8" y2="209.0" stroke="#ff0000" stroke-width="1.7"/>
<text x="341.7" y="211.7" font-size="6.75" fill="#000" stroke="#000" stroke-width="0.18" textLength="53.9" lengthAdjust="spacing">Simulation: f=41%</text>
<line x1="318.9" y1="217.3" x2="340.8" y2="217.3" stroke="#0000ff" stroke-width="1.6" stroke-dasharray="4.1 4.1"/>
<text x="341.7" y="220.0" font-size="6.75" fill="#000" stroke="#000" stroke-width="0.18" textLength="53.9" lengthAdjust="spacing">Simulation: f=60%</text>
<g fill="#262626" font-size="10.7" stroke="#262626" stroke-width="0.3">
<text x="145.7" y="266.6" text-anchor="middle">Nominal Strain</text>
<text x="414.5" y="266.6" text-anchor="middle">Nominal Strain</text>
<text transform="translate(8.4,130.0) rotate(-90)" text-anchor="middle">Nominal Stress (MPa)</text>
<text transform="translate(283.9,130.1) rotate(-90)" text-anchor="middle">Void Volume Fraction</text>
</g>
<g fill="#000" font-size="10" font-weight="bold">
<text x="49.1" y="8.3" text-anchor="middle">(a)</text>
<text x="317.9" y="8.3" text-anchor="middle">(b)</text>
</g>
</svg>
</div></body></html>
